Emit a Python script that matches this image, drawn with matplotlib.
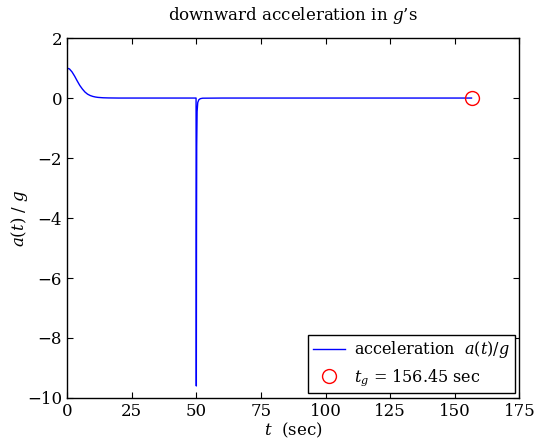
import numpy as np
import matplotlib.pyplot as plt

plt.rcParams['font.family'] = 'DejaVu Serif'
plt.rcParams['mathtext.fontset'] = 'dejavuserif'

# acceleration a(t)/g: free fall, then chute opening at t = 50
t_pts = [0.0, 1.0, 2.0, 3.0, 4.0, 5.0, 6.0, 7.0, 8.0, 9.0, 10.0, 11.0, 12.0,
         14.0, 16.0, 20.0, 30.0, 49.95, 50.05, 50.12, 50.2, 50.35, 50.6, 51.0,
         51.6, 52.5, 60.0, 100.0, 156.45]
a_pts = [1.0, 0.97, 0.87, 0.73, 0.57, 0.42, 0.30, 0.20, 0.13, 0.085, 0.055,
         0.035, 0.022, 0.009, 0.004, 0.0, 0.0, 0.0, -9.6, -4.5, -1.6, -0.45,
         -0.15, -0.06, -0.02, -0.005, 0.0, 0.0, 0.0]

t_g = 156.45

x_ticks = [0, 25, 50, 75, 100, 125, 150, 175]
y_ticks = [-10, -8, -6, -4, -2, 0, 2]

fig = plt.figure(figsize=(5.35, 4.4), dpi=100)
ax = fig.add_axes([0.125, 0.0955, 0.846, 0.818])

ax.plot(t_pts, a_pts, color='blue', lw=1.0, label=r'acceleration  $a(t)/g$')
ax.plot([t_g], [0], 'o', mfc='none', mec='red', ms=10, mew=1.0,
        label=r'$t_g$ = %.2f sec' % t_g)

ax.set_xlim(0, 175)
ax.set_ylim(-10, 2)
ax.set_xticks(x_ticks)
ax.set_yticks(y_ticks)
ax.tick_params(direction='in', top=True, right=True, labelsize=12, length=4)
for s in ax.spines.values():
    s.set_linewidth(1.0)

ax.set_title(r'downward acceleration in $g$’s', fontsize=12, pad=13)
ax.set_xlabel(r'$t$  (sec)', fontsize=12, labelpad=1)
ax.set_ylabel(r'$a(t)\ /\ g$', fontsize=12, labelpad=-2)

leg = ax.legend(loc='lower right', fontsize=11.5, fancybox=False, framealpha=1,
                edgecolor='black', borderaxespad=0.3, handlelength=2.0,
                handletextpad=0.6, borderpad=0.3, labelspacing=0.45)
leg.get_frame().set_linewidth(1.0)

fig.savefig('out.png', dpi=100)
